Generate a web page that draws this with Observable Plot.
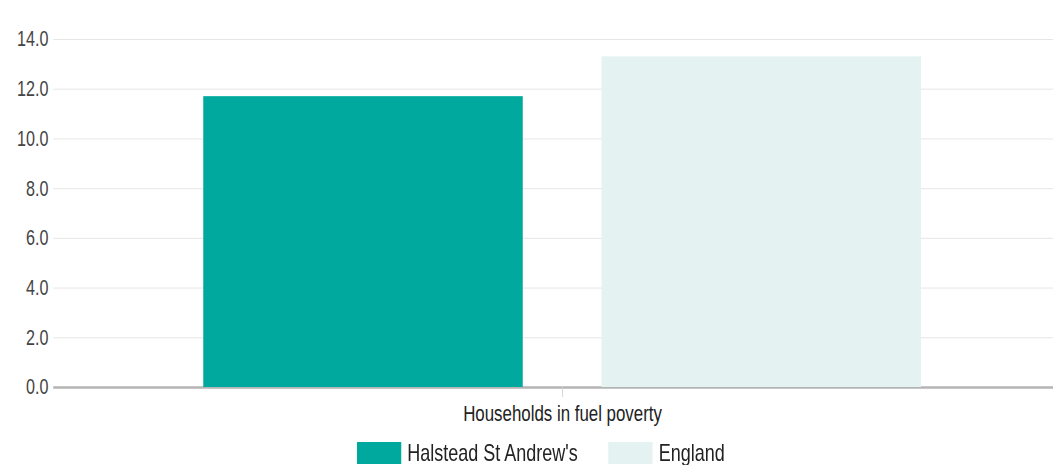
<!DOCTYPE html>
<html>
<head>
<meta charset="utf-8">
<script src="https://cdn.jsdelivr.net/npm/d3@7"></script>
<script src="https://cdn.jsdelivr.net/npm/@observablehq/plot@0.6"></script>
<style>
  html, body { margin: 0; padding: 0; background: #fff; overflow: hidden; width: 1053px; height: 465px; }
  #wrap { width: 1428px; transform: scaleX(0.75); transform-origin: 0 0; }
  #chart svg { display: block; max-width: none; }
  .legend { display: flex; align-items: flex-start; margin-left: 476px; margin-top: 12px;
    font-family: "Liberation Sans", Arial, sans-serif;
    font-size: 24px; color: #222; line-height: 22px; white-space: nowrap; }
  .legend .item { display: flex; align-items: flex-start; margin-right: 41px; }
  .legend .sw { width: 59px; height: 22px; margin-right: 8px; }
</style>
</head>
<body>
<div id="wrap">
<div id="chart"></div>
<div class="legend" id="legend"></div>
</div>
<script>
const category = ["Households in fuel poverty"];
const seriesNames = ["Halstead St Andrew's", "England"];
const values = [11.7, 13.3];
const yTicks = [0, 2, 4, 6, 8, 10, 12, 14];
const colors = ["#00a99d", "#e4f2f1"];

const data = seriesNames.map((s, i) => ({category: category[0], series: s, value: values[i]}));
const font = '"Liberation Sans", Arial, sans-serif';

const chart = Plot.plot({
  width: 1428,
  height: 430,
  marginLeft: 71,
  marginRight: 0,
  marginTop: 39,
  marginBottom: 43,
  style: {fontFamily: font, fontSize: "21px", color: "#333", background: "#fff", overflow: "visible", maxWidth: "none"},
  fx: {domain: category, padding: 0, label: null, axis: null},
  x: {domain: seriesNames, paddingInner: 0.198, paddingOuter: 0.3745, axis: null},
  y: {domain: [0, 14], label: null, axis: null},
  color: {domain: seriesNames, range: colors},
  marks: [
    Plot.gridY(yTicks, {stroke: "#e2e2e2", strokeOpacity: 1, strokeWidth: 1}),
    Plot.ruleY([0], {stroke: "#b4b4b4", strokeWidth: 2.5}),
    Plot.barY(data, {fx: "category", x: "series", y: "value", fill: "series"}),
    Plot.axisY(yTicks, {tickSize: 0, tickPadding: 7, tickFormat: d3.format(".1f"), fontSize: 21.5, fill: "#444", label: null}),
    Plot.axisFx({anchor: "bottom", tickSize: 10, tickPadding: 8, stroke: "#d0d0d0", fill: "#222", fontSize: 22.5, label: null})
  ]
});
document.getElementById("chart").appendChild(chart);

const legend = document.getElementById("legend");
seriesNames.forEach((s, i) => {
  const item = document.createElement("div");
  item.className = "item";
  const sw = document.createElement("div");
  sw.className = "sw";
  sw.style.background = colors[i];
  const t = document.createElement("span");
  t.textContent = s;
  item.appendChild(sw);
  item.appendChild(t);
  legend.appendChild(item);
});
</script>
</body>
</html>
